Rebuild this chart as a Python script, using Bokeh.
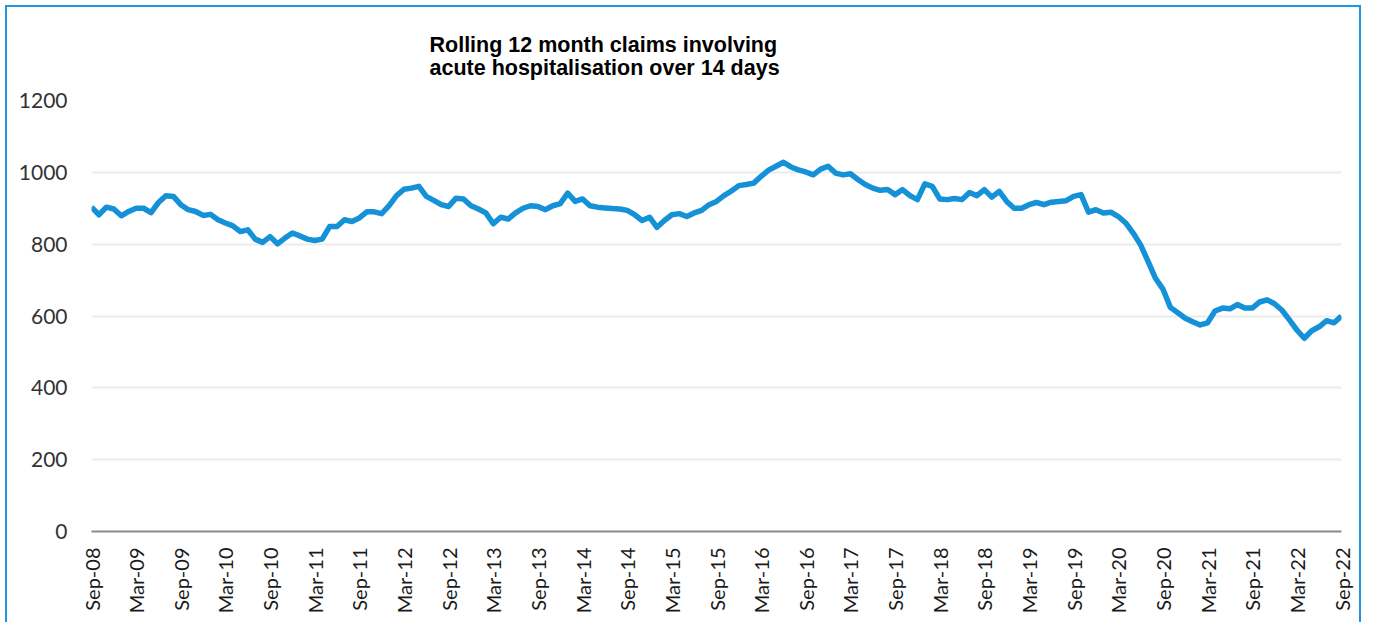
from bokeh.plotting import figure
from bokeh.models import Range1d, FixedTicker, Title
from bokeh.embed import file_html
from bokeh.resources import INLINE
import math

# Monthly rolling 12-month claims, Sep-08 .. Sep-22 (169 months)
claims_2008_2012 = [903, 882, 903, 898, 879, 891, 900, 900, 888, 916, 935, 933, 910, 896, 891,
                    880, 883, 868, 859, 851, 835, 840, 814, 805, 821, 801, 817, 831, 823, 814,
                    810, 814, 849, 849, 868, 863, 873, 890, 890, 885, 907, 935, 953]
claims_2012_2015 = [956, 961, 933, 922, 910, 905, 928, 926, 907, 898, 887, 857, 875, 870, 887,
                    900, 907, 905, 896, 907, 913, 942, 919, 926, 907, 903, 901, 899, 898, 894,
                    882, 866, 875, 847, 866, 882, 885, 877, 887, 894, 910, 919, 935, 948]
claims_2016_2019 = [963, 966, 970, 989, 1006, 1017, 1028, 1015, 1007, 1001, 993, 1009, 1017, 998,
                    993, 996, 980, 966, 956, 950, 952, 938, 952, 935, 924, 968, 961, 926, 924,
                    927, 924, 944, 935, 952, 931, 947, 919, 900, 900, 910, 916, 910, 917]
claims_2019_2020 = [919, 921, 933, 938, 889, 896, 887, 889, 877, 859, 831, 798, 752, 705]
claims_2020_2022 = [675, 624, 609, 594, 584, 575, 581, 614, 622, 620, 632, 622, 622, 639, 645,
                    634, 616, 589, 561, 538, 559, 570, 587, 581, 600]

claims = claims_2008_2012 + claims_2012_2015 + claims_2016_2019 + claims_2019_2020 + claims_2020_2022
months = list(range(len(claims)))

tick_labels = ["Sep-08", "Mar-09", "Sep-09", "Mar-10", "Sep-10", "Mar-11", "Sep-11", "Mar-12",
               "Sep-12", "Mar-13", "Sep-13", "Mar-14", "Sep-14", "Mar-15", "Sep-15", "Mar-16",
               "Sep-16", "Mar-17", "Sep-17", "Mar-18", "Sep-18", "Mar-19", "Sep-19", "Mar-20",
               "Sep-20", "Mar-21", "Sep-21", "Mar-22", "Sep-22"]
tick_positions = [6 * i for i in range(len(tick_labels))]

title_lines = ["Rolling 12 month claims involving", "acute hospitalisation over 14 days"]

y_ticks = [0, 200, 400, 600, 800, 1000, 1200]

p = figure(width=1356, height=617, output_backend="svg", toolbar_location=None,
           x_range=Range1d(0, len(claims) - 1), y_range=Range1d(0, 1200),
           min_border_left=84, min_border_right=22, min_border_top=93, min_border_bottom=93,
           styles={"border-left": "2px solid #1f97de", "border-top": "2px solid #1f97de",
                   "border-right": "2px solid #1f97de", "margin-left": "5px", "margin-top": "5px"})
p.outline_line_color = None
p.background_fill_color = "white"
p.border_fill_color = "white"

p.line(months, claims, line_color="#1591d8", line_width=5.5, line_join="round")

# x axis
xa = p.xaxis[0]
xa.ticker = FixedTicker(ticks=tick_positions)
xa.major_label_overrides = {t: l for t, l in zip(tick_positions, tick_labels)}
xa.major_label_orientation = math.pi / 2
xa.major_label_text_font = "Lato"
xa.major_label_text_font_size = "20px"
xa.major_label_text_color = "#1a1a1a"
xa.major_label_standoff = 10
xa.axis_line_color = "#8c8c8c"
xa.axis_line_width = 2
xa.major_tick_line_color = None
xa.minor_tick_line_color = None

# y axis
ya = p.yaxis[0]
ya.ticker = FixedTicker(ticks=y_ticks)
ya.major_label_text_font = "Lato"
ya.major_label_text_font_size = "21px"
ya.major_label_text_color = "#333333"
ya.major_label_standoff = 18
ya.axis_line_color = None
ya.major_tick_line_color = None
ya.minor_tick_line_color = None

p.xgrid.grid_line_color = None
p.ygrid.ticker = FixedTicker(ticks=y_ticks)
p.ygrid.grid_line_color = "#ececec"
p.ygrid.grid_line_width = 2

p.add_layout(Title(text="\n".join(title_lines), align="left", offset=338, standoff=40,
                   text_font="Liberation Sans", text_font_style="bold",
                   text_font_size="21.5px", text_line_height=0.98,
                   text_color="#000000"), "above")

open("out.html", "w").write(file_html(p, INLINE))
